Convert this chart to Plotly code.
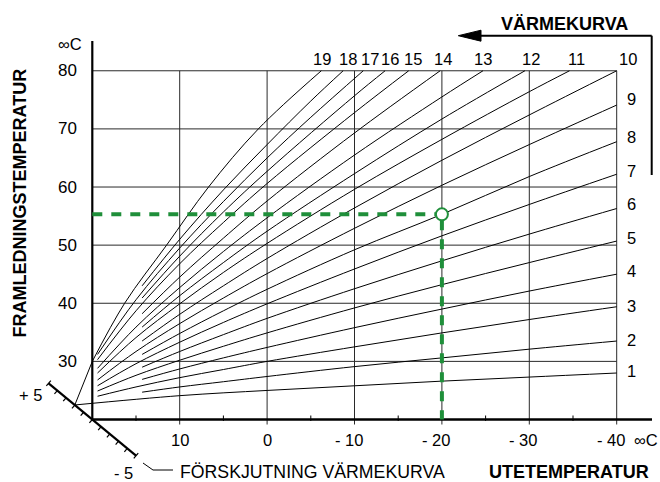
import plotly.graph_objects as go

# ---------------- data ----------------
x_tick_values = [10, 0, -10, -20, -30, -40]
x_tick_labels = ["10", "0", "- 10", "- 20", "- 30", "- 40"]
x_minor_values = [15, 5, -5, -15, -25, -35]
y_tick_values = [30, 40, 50, 60, 70, 80]
y_tick_labels = ["30", "40", "50", "60", "70", "80"]

# heating curves (värmekurva) 1..19: outdoor temp -> flow temp
k1_out = [22, 10, 0, -10, -20, -30, -40]
k1_flow = [22.5, 24.1, 25.0, 25.8, 26.6, 27.3, 28.0]
k2_out = [14.3, 10, 5, 0, -10, -20, -30, -40]
k2_flow = [24.7, 25.6, 26.5, 27.4, 29.1, 30.6, 32.1, 33.5]
k3_out = [19.4, 15, 10, 5, 0, -10, -20, -30, -40]
k3_flow = [24.0, 25.6, 27.2, 28.6, 30.0, 32.5, 34.9, 37.2, 39.4]
k4_out = [14.3, 10, 5, 0, -10, -20, -30, -40]
k4_flow = [26.9, 28.7, 30.6, 32.4, 35.8, 39.0, 42.1, 45.0]
k5_out = [19.4, 15, 10, 5, 0, -10, -20, -30, -40]
k5_flow = [24.9, 27.6, 30.2, 32.6, 34.9, 39.2, 43.2, 47.0, 50.7]
k6_out = [14.3, 10, 5, 0, -10, -20, -30, -40]
k6_flow = [29.0, 31.7, 34.6, 37.4, 42.5, 47.3, 51.9, 56.3]
k7_out = [19.4, 15, 10, 5, 0, -10, -20, -30, -40]
k7_flow = [25.8, 29.6, 33.3, 36.7, 39.9, 45.9, 51.6, 57.0, 62.2]
k8_out = [14.3, 10, 5, 0, -10, -20, -30, -40]
k8_flow = [31.2, 34.8, 38.7, 42.4, 49.2, 55.3, 61.8, 67.8]
k9_out = [19.4, 15, 10, 5, 0, -10, -20, -30, -40]
k9_flow = [26.8, 31.7, 36.5, 40.9, 45.1, 52.9, 60.3, 67.3, 74.1]
k10_out = [14.3, 10, 5, 0, -10, -20, -30, -40]
k10_flow = [33.5, 38.1, 43.0, 47.7, 56.4, 64.6, 72.4, 80.0]
k11_out = [19.4, 15, 10, 5, 0, -10, -20, -30, -34.6]
k11_flow = [28.0, 34.1, 39.9, 45.3, 50.3, 59.6, 68.2, 76.4, 80.0]
k12_out = [14.3, 10, 5, 0, -10, -20, -29.5]
k12_flow = [35.9, 41.3, 47.0, 52.4, 62.3, 71.7, 80.0]
k13_out = [19.4, 15, 10, 5, 0, -10, -20, -24.7]
k13_flow = [28.8, 35.9, 42.7, 48.9, 54.7, 65.5, 75.5, 80.0]
k14_out = [14.3, 10, 5, 0, -10, -19.8]
k14_flow = [38.2, 44.5, 51.2, 57.6, 69.3, 80.0]
k15_out = [19.4, 15, 10, 5, 0, -10, -16.2]
k15_flow = [30.3, 38.7, 46.8, 53.9, 60.6, 72.8, 80.0]
k16_out = [14.3, 10, 5, 0, -10, -13.5]
k16_flow = [40.9, 48.1, 55.7, 62.7, 75.7, 80.0]
k17_out = [19.4, 15, 10, 5, 0, -5, -11.0]
k17_flow = [31.2, 40.6, 49.5, 57.5, 65.0, 72.0, 80.0]
k18_out = [14.3, 10, 5, 0, -5, -8.7]
k18_flow = [43.0, 51.0, 59.5, 67.3, 74.8, 80.0]
k19_out = [20, 16.3, 11.5, 6.7, 1.0, -6.2]
k19_flow = [30.0, 40.0, 50.0, 60.0, 70.0, 80.0]
k19_ext_out = [22, 20]
k19_ext_flow = [22.5, 30.0]

# offset scale (förskjutning värmekurva) steps
offset_steps = [-5, -4, -3, -2, -1, 0, 1, 2, 3, 4, 5]
offset_flow_per_step = 1.246

# example reading
example_out = -20
example_flow = 55.3

curves_out = [k1_out, k2_out, k3_out, k4_out, k5_out, k6_out, k7_out, k8_out, k9_out, k10_out,
              k11_out, k12_out, k13_out, k14_out, k15_out, k16_out, k17_out, k18_out, k19_out]
curves_flow = [k1_flow, k2_flow, k3_flow, k4_flow, k5_flow, k6_flow, k7_flow, k8_flow, k9_flow, k10_flow,
               k11_flow, k12_flow, k13_flow, k14_flow, k15_flow, k16_flow, k17_flow, k18_flow, k19_flow]

# label nudges (px) from the curve end points, curves 1..19
label_nudge_px = [2, 1, 1, 3, 3, 5, 3, 5, 6, 11, 7, 6, 0, 3, 4, 5, 7, 5, 1]

# ---------------- geometry ----------------
W, H = 660, 482
PX_X = 8.74     # px per degree outdoor
PX_Y = 5.812    # px per degree flow
X0_PX, Y0_PX = 92.3, 419.5   # pixel of (20, 20)


def T_of(px):
    return 20 - (px - X0_PX) / PX_X


def F_of(py):
    return 20 + (Y0_PX - py) / PX_Y


def dT(dpx):
    return -dpx / PX_X


def dF(dpy):
    return -dpy / PX_Y


FONT = "Liberation Sans, Arial, Helvetica, sans-serif"
GRID = "#2a2a2a"
GREEN = "#1f8f3a"

fig = go.Figure()


def line(xs, ys, color="black", width=1, dash=None, shape="linear"):
    fig.add_trace(go.Scatter(x=xs, y=ys, mode="lines", hoverinfo="skip",
                             line=dict(color=color, width=width, dash=dash, shape=shape)))


xmin, xmax, ymin, ymax = 20, -40, 20, 80

# horizontal grid lines
for v in y_tick_values:
    line([xmin, xmax], [v, v], GRID, 1)
# vertical grid lines (with tick below axis)
for v in x_tick_values:
    line([v, v], [ymin + dF(5), ymax], GRID, 1)
# minor ticks
for v in x_minor_values:
    line([v, v], [ymin + dF(1.5), ymin + dF(-4)], "black", 1)

# heating curves
for xs, ys in zip(curves_out, curves_flow):
    line(xs, ys, "black", 1, shape="spline")
line(k19_ext_out, k19_ext_flow, "black", 1)

# axes
line([xmin, xmin], [ymin, F_of(41)], "black", 2.2)
line([xmin, T_of(652)], [ymin, ymin], "black", 2.6)

# offset scale
sx = [20 + s for s in offset_steps]
sy = [20 + s * offset_flow_per_step for s in offset_steps]
line([sx[0], sx[-1]], [sy[0], sy[-1]], "black", 2.2)
ux, uy = 0.767, 0.642  # unit direction (px) of the scale, down-right
px_, py_ = -uy, ux       # perpendicular, towards lower-left
for s, x, y in zip(offset_steps, sx, sy):
    if abs(s) == 5:
        a, b = -3.5, 3.5
    else:
        a, b = 0, 4.5
    line([x + dT(px_ * a), x + dT(px_ * b)], [y + dF(py_ * a), y + dF(py_ * b)], "black", 1.2)

# example reading (green)
r_px = 6
line([xmin, example_out + dT(-r_px)], [example_flow, example_flow], GREEN, 4, dash="10px,9px")
line([example_out, example_out], [example_flow + dF(r_px), ymin], GREEN, 4, dash="10px,9px")
fig.add_trace(go.Scatter(x=[example_out], y=[example_flow], mode="markers", hoverinfo="skip",
                         marker=dict(size=12, color="white", line=dict(color=GREEN, width=2))))

ann = []


def text(x, y, s, size=17, bold=False, xanchor="center", yanchor="middle", ref="data",
         angle=0, xshift=0):
    d = dict(x=x, y=y, text=("<b>%s</b>" % s) if bold else s, showarrow=False,
             font=dict(family=FONT, size=size, color="black"), xanchor=xanchor,
             yanchor=yanchor, textangle=angle, xshift=xshift)
    if ref == "paper":
        d.update(xref="paper", yref="paper")
    else:
        d.update(xref="x", yref="y")
    ann.append(d)


# y tick labels
for v, s in zip(y_tick_values, y_tick_labels):
    text(T_of(79), v, s, 17, xanchor="right")
text(T_of(70), F_of(44), "∞C", 16.5)
# x tick labels
for v, s in zip(x_tick_values, x_tick_labels):
    text(v, F_of(440), s, 16.5, xshift=(-6 if s.startswith("-") else 0))
text(T_of(646), F_of(440), "∞C", 16.5)

# curve labels: 1..9 at right edge, 10..19 along top
for i, (xs, ys) in enumerate(zip(curves_out, curves_flow)):
    name = str(i + 1)
    if ys[-1] < 80:
        text(T_of(631.7), ys[-1] + dF(-label_nudge_px[i]), name, 16.5)
    else:
        text(xs[-1] + dT(label_nudge_px[i]), F_of(59), name, 16.5)

# titles
def P(px, py):
    return px / W, 1 - py / H


text(*P(564.5, 24), "VÄRMEKURVA", 18, bold=True, ref="paper")
text(*P(569, 472), "UTETEMPERATUR", 18, bold=True, ref="paper")
text(*P(19, 203.5), "FRAMLEDNINGSTEMPERATUR", 18, bold=True, ref="paper", angle=-90)
text(*P(312.5, 472), "FÖRSKJUTNING VÄRMEKURVA", 17.7, ref="paper")
text(*P(123, 473), "- 5", 16.5, ref="paper")
text(*P(30, 395), "+ 5", 16.5, ref="paper")

shapes = []
# arrow for VÄRMEKURVA
x1, y1 = P(651.7, 35.7)
x2, y2 = P(478, 35.7)
shapes.append(dict(type="line", xref="paper", yref="paper", x0=x1, y0=y1, x1=x2, y1=y2,
                   line=dict(color="black", width=2)))
xb, yb = P(651.7, 175)
shapes.append(dict(type="line", xref="paper", yref="paper", x0=x1, y0=y1, x1=xb, y1=yb,
                   line=dict(color="black", width=2)))
t1 = P(458.3, 35.7)
t2 = P(481, 30.2)
t3 = P(481, 41.2)
shapes.append(dict(type="path", xref="paper", yref="paper",
                   path="M %f,%f L %f,%f L %f,%f Z" % (t1[0], t1[1], t2[0], t2[1], t3[0], t3[1]),
                   fillcolor="black", line=dict(color="black", width=1)))
# leader line for offset label
l1, l2, l3 = P(143, 463), P(153, 470), P(173, 470)
shapes.append(dict(type="path", xref="paper", yref="paper",
                   path="M %f,%f L %f,%f L %f,%f" % (l1[0], l1[1], l2[0], l2[1], l3[0], l3[1]),
                   line=dict(color="black", width=1)))

fig.update_layout(
    width=W, height=H, margin=dict(l=0, r=0, t=0, b=0, pad=0),
    paper_bgcolor="white", plot_bgcolor="white", showlegend=False,
    xaxis=dict(range=[T_of(0), T_of(W)], visible=False, fixedrange=True),
    yaxis=dict(range=[F_of(H), F_of(0)], visible=False, fixedrange=True),
    annotations=ann, shapes=shapes,
)

fig.write_html("out.html", config={"displayModeBar": False},
               post_script="document.body.style.margin='0';document.body.style.overflow='hidden';")
